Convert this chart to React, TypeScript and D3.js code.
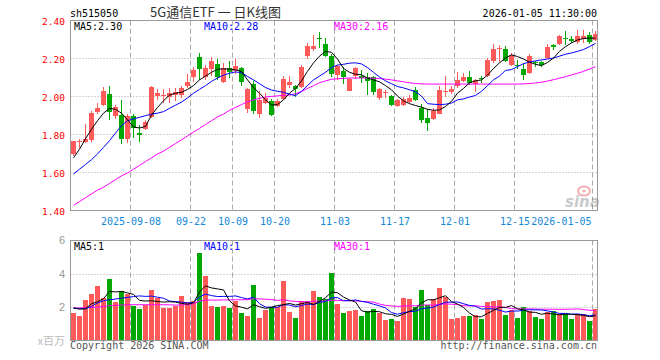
import React from "react";
import * as d3 from "d3";

const dates = [
  "2025-08-25","2025-08-26","2025-08-27","2025-08-28","2025-08-29",
  "2025-09-01","2025-09-02","2025-09-03","2025-09-04","2025-09-05",
  "2025-09-08","2025-09-09","2025-09-10","2025-09-11","2025-09-12",
  "2025-09-15","2025-09-16","2025-09-17","2025-09-18","2025-09-19",
  "2025-09-22","2025-09-23","2025-09-24","2025-09-25","2025-09-26",
  "2025-09-29","2025-09-30",
  "2025-10-09","2025-10-10","2025-10-13","2025-10-14","2025-10-15","2025-10-16","2025-10-17",
  "2025-10-20","2025-10-21","2025-10-22","2025-10-23","2025-10-24",
  "2025-10-27","2025-10-28","2025-10-29","2025-10-30","2025-10-31",
  "2025-11-03","2025-11-04","2025-11-05","2025-11-06","2025-11-07",
  "2025-11-10","2025-11-11","2025-11-12","2025-11-13","2025-11-14",
  "2025-11-17","2025-11-18","2025-11-19","2025-11-20","2025-11-21",
  "2025-11-24","2025-11-25","2025-11-26","2025-11-27","2025-11-28",
  "2025-12-01","2025-12-02","2025-12-03","2025-12-04","2025-12-05",
  "2025-12-08","2025-12-09","2025-12-10","2025-12-11","2025-12-12",
  "2025-12-15","2025-12-16","2025-12-17","2025-12-18","2025-12-19",
  "2025-12-22","2025-12-23","2025-12-24","2025-12-25","2025-12-26",
  "2025-12-29","2025-12-30","2025-12-31",
  "2026-01-05",
];

const open = [
  1.70,1.765,1.763,1.775,1.92,1.96,2.015,1.90,1.905,1.78,
  1.90,1.812,1.833,1.895,2.005,2.005,2.0,2.01,2.012,2.056,
  2.103,2.208,2.105,2.145,2.175,2.079,2.155,2.135,2.152,1.935,
  2.068,1.912,1.97,1.98,1.955,1.99,2.065,2.06,2.055,2.214,
  2.25,2.308,2.277,2.217,2.118,2.137,2.034,2.108,2.11,2.105,
  2.105,1.997,2.025,2.007,1.955,1.96,1.975,2.035,1.942,1.89,
  1.885,1.912,2.028,2.028,2.06,2.086,2.103,2.07,2.1,2.112,
  2.187,2.256,2.254,2.17,2.167,2.147,2.125,2.184,2.184,2.205,
  2.275,2.28,2.31,2.307,2.287,2.305,2.324,2.301,
];
const high = [
  1.77,1.78,1.86,1.925,1.97,2.055,2.06,1.96,1.985,1.91,
  1.91,1.855,1.88,2.06,2.04,2.04,2.045,2.045,2.06,2.12,
  2.16,2.232,2.17,2.21,2.20,2.18,2.19,2.20,2.16,2.05,
  2.085,2.03,2.02,1.99,1.99,2.11,2.11,2.065,2.17,2.284,
  2.326,2.34,2.31,2.225,2.17,2.16,2.10,2.16,2.14,2.125,
  2.11,2.045,2.035,2.01,1.99,2.0,2.01,2.055,1.965,1.935,
  1.94,2.06,2.11,2.06,2.13,2.126,2.138,2.095,2.112,2.205,
  2.28,2.275,2.266,2.232,2.196,2.179,2.225,2.19,2.19,2.28,
  2.28,2.328,2.345,2.319,2.35,2.35,2.34,2.345,
];
const low = [
  1.687,1.73,1.757,1.765,1.91,1.95,1.88,1.885,1.755,1.758,
  1.785,1.765,1.825,1.89,1.985,1.97,1.97,1.98,1.995,2.045,
  2.08,2.09,2.09,2.11,2.09,2.075,2.10,2.12,2.06,1.915,
  1.91,1.887,1.965,1.90,1.945,1.985,2.05,2.0,2.05,2.20,
  2.24,2.258,2.21,2.105,2.09,2.07,2.03,2.095,2.075,2.012,
  2.01,1.985,1.995,1.955,1.945,1.955,1.97,1.98,1.865,1.82,
  1.88,1.91,2.0,2.015,2.045,2.08,2.065,2.024,2.074,2.105,
  2.18,2.182,2.182,2.165,2.147,2.091,2.12,2.16,2.16,2.2,
  2.245,2.275,2.275,2.284,2.28,2.284,2.28,2.293,
];
const close = [
  1.766,1.768,1.78,1.916,1.94,2.03,1.92,1.947,1.78,1.898,
  1.837,1.80,1.87,2.055,2.022,2.008,2.02,2.025,2.047,2.077,
  2.142,2.15,2.155,2.187,2.105,2.153,2.13,2.163,2.08,2.04,
  1.926,1.983,1.997,1.907,1.978,2.097,2.08,2.04,2.157,2.267,
  2.27,2.303,2.215,2.12,2.165,2.105,2.095,2.153,2.10,2.082,
  2.025,2.042,2.028,1.96,1.982,1.99,1.993,1.985,1.88,1.862,
  1.928,2.035,2.032,2.042,2.087,2.103,2.074,2.091,2.097,2.196,
  2.254,2.26,2.187,2.223,2.163,2.117,2.217,2.18,2.168,2.263,
  2.263,2.319,2.305,2.293,2.319,2.319,2.287,2.333,
];
const volume = [
  1.64,1.48,2.44,2.8,3.24,2.54,3.68,2.3,2.94,2.78,
  2.08,1.88,2.14,3.02,2.54,1.94,1.94,2.04,2.64,2.28,
  2.34,5.24,3.84,2.06,1.98,2.04,1.94,2.34,1.64,1.48,
  3.3,1.34,1.84,1.98,1.98,3.58,1.7,1.34,2.38,2.38,
  2.98,2.6,2.48,4.06,2.2,1.66,1.76,1.82,1.48,1.76,
  1.86,1.66,1.22,1.28,1.16,2.56,2.5,2.02,3.02,2.12,
  2.48,3.16,2.62,1.28,1.36,1.48,1.48,1.52,1.28,2.32,
  2.38,2.42,1.52,1.82,1.36,2.02,1.76,1.42,1.28,1.68,
  1.76,1.56,1.56,1.28,1.56,1.56,1.16,1.86,
];

const ma5 = [
  1.68,1.725,1.78,1.83,1.875,1.915,1.94,1.935,1.915,1.88,
  1.842,1.837,1.845,1.905,1.945,1.98,2.01,2.02,2.025,2.04,
  2.06,2.09,2.11,2.13,2.146,2.148,2.147,2.143,2.135,2.09,
  2.05,2.02,1.985,1.958,1.96,1.985,2.02,2.045,2.085,2.135,
  2.18,2.215,2.24,2.235,2.2,2.15,2.13,2.12,2.117,2.1,
  2.09,2.08,2.06,2.038,2.005,1.98,1.965,1.955,1.947,1.935,
  1.93,1.932,1.95,1.977,2.02,2.045,2.075,2.085,2.09,2.115,
  2.15,2.18,2.205,2.222,2.213,2.2,2.183,2.172,2.165,2.182,
  2.205,2.24,2.265,2.285,2.3,2.308,2.31,2.31,
];
const ma10 = [
  1.595,1.62,1.645,1.67,1.70,1.735,1.77,1.81,1.85,1.875,
  1.885,1.893,1.902,1.91,1.915,1.923,1.94,1.957,1.973,1.995,
  2.02,2.04,2.06,2.082,2.10,2.115,2.125,2.132,2.128,2.108,
  2.09,2.07,2.05,2.037,2.03,2.025,2.015,2.007,2.03,2.06,
  2.09,2.11,2.13,2.155,2.168,2.172,2.178,2.18,2.174,2.155,
  2.13,2.105,2.085,2.07,2.055,2.048,2.038,2.028,2.005,1.965,
  1.962,1.96,1.962,1.968,1.985,1.99,2.0,2.008,2.03,2.06,
  2.09,2.11,2.14,2.144,2.16,2.175,2.185,2.19,2.195,2.2,
  2.205,2.215,2.225,2.232,2.24,2.25,2.265,2.282,
];
const ma30 = [
  1.43,1.45,1.47,1.49,1.51,1.525,1.545,1.565,1.585,1.60,
  1.62,1.64,1.66,1.68,1.70,1.715,1.735,1.755,1.775,1.795,
  1.815,1.835,1.855,1.875,1.895,1.91,1.93,1.945,1.96,1.975,
  1.985,1.993,2.0,2.003,2.006,2.009,2.01,2.018,2.028,2.045,
  2.06,2.075,2.085,2.093,2.096,2.098,2.1,2.1,2.1,2.1,
  2.099,2.097,2.094,2.09,2.085,2.08,2.075,2.071,2.069,2.068,
  2.068,2.068,2.068,2.068,2.068,2.068,2.068,2.068,2.068,2.068,
  2.068,2.068,2.068,2.068,2.068,2.069,2.071,2.074,2.078,2.084,
  2.091,2.099,2.107,2.116,2.125,2.135,2.147,2.16,
];
const volMa5 = [
  1.95,1.88,1.9,2.2,2.32,2.5,2.94,2.91,2.94,2.85,
  2.76,2.4,2.36,2.38,2.33,2.3,2.32,2.3,2.22,2.17,
  2.25,2.91,3.27,3.15,3.09,3.03,2.37,2.07,1.99,1.89,
  2.14,2.02,1.92,1.99,2.09,2.14,2.22,2.12,2.2,2.28,
  2.16,2.34,2.56,2.9,2.86,2.6,2.43,2.3,1.78,1.7,
  1.74,1.72,1.6,1.56,1.44,1.58,1.74,1.9,2.25,2.44,
  2.43,2.56,2.68,2.33,2.18,1.98,1.64,1.42,1.42,1.62,
  1.8,1.98,1.98,2.09,1.9,1.83,1.7,1.68,1.57,1.63,
  1.58,1.54,1.57,1.57,1.54,1.5,1.42,1.48,
];
const volMa10 = [
  1.94,1.9,1.9,2.04,2.25,2.38,2.44,2.48,2.54,2.58,
  2.63,2.67,2.64,2.66,2.59,2.53,2.36,2.33,2.3,2.25,
  2.28,2.61,2.78,2.69,2.63,2.64,2.64,2.67,2.57,2.49,
  2.59,2.2,2.0,1.99,1.99,2.14,2.12,2.02,2.09,2.18,
  2.15,2.28,2.34,2.55,2.57,2.38,2.38,2.43,2.34,2.28,
  2.17,2.07,1.95,1.67,1.57,1.66,1.73,1.75,1.9,1.94,
  2.0,2.15,2.29,2.29,2.31,2.2,2.1,2.05,1.88,1.9,
  1.89,1.81,1.7,1.76,1.76,1.81,1.84,1.83,1.83,1.77,
  1.7,1.62,1.62,1.57,1.59,1.54,1.48,1.53,
];
const volMa30 = [
  1.94,1.95,1.96,1.98,2.0,2.04,2.08,2.1,2.12,2.14,
  2.14,2.14,2.14,2.14,2.14,2.14,2.13,2.12,2.12,2.14,
  2.2,2.36,2.42,2.42,2.42,2.43,2.43,2.44,2.44,2.44,
  2.5,2.49,2.47,2.45,2.4,2.44,2.37,2.34,2.32,2.31,
  2.34,2.36,2.37,2.41,2.4,2.39,2.38,2.37,2.34,2.32,
  2.3,2.18,2.1,2.07,2.04,2.06,2.08,2.07,2.11,2.13,
  2.11,2.17,2.19,2.17,2.15,2.08,2.07,2.08,2.04,2.04,
  2.02,2.01,1.98,1.91,1.88,1.89,1.89,1.88,1.87,1.87,
  1.87,1.86,1.87,1.87,1.89,1.85,1.81,1.8,
];

const tickDates = ["2025-09-08","2025-09-22","2025-10-09","2025-10-20","2025-11-03","2025-11-17","2025-12-01","2025-12-15","2026-01-05"];
const tickLabels = ["2025-09-08","09-22","10-09","10-20","11-03","11-17","12-01","12-15","2026-01-05"];
const priceTicks = [1.4, 1.6, 1.8, 2.0, 2.2, 2.4];
const volTicks = [2, 4, 6];

const symbol = "sh515050";
const title = "5G通信ETF 一 日K线图";
const timestamp = "2026-01-05 11:30:00";
const priceLegend = ["MA5:2.30", "MA10:2.28", "MA30:2.16"];
const volLegend = ["MA5:1", "MA10:1", "MA30:1"];
const volUnit = "x百万";
const copyright = "Copyright 2026 SINA.COM";
const url = "http://finance.sina.com.cn";

const RED = "#ff5a5a";
const GREEN = "#00a800";
const MONO = "'DejaVu Sans Mono', 'Liberation Mono', monospace";
const maColors = ["#000000", "#0000ff", "#ff00ff"];

export default function App() {
  const L = 70.5, R = 597.5;
  const PT = 20.5, PB = 210.5;
  const VT = 240.5, VB = 340.5;
  const n = dates.length;
  const x = d3.scaleLinear().domain([0, n]).range([71, 71 + 6 * n]);
  const y = d3.scaleLinear().domain([1.4, 2.4]).range([211, 21]);
  const yv = d3.scaleLinear().domain([0, 6]).range([340.4, 240.4]);
  const cx = (i: number) => x(i) + 2.5;

  const line = d3.line<number>().x((_, i) => cx(i)).y((v) => y(v));
  const vline = d3.line<number>().x((_, i) => cx(i)).y((v) => yv(v));

  const tickIdx = tickDates.map((d) => dates.indexOf(d));

  return (
    <svg
      width={660}
      height={360}
      style={{ position: "fixed", left: 0, top: 0, background: "#fff" }}
      fontFamily={MONO}
    >
      <rect x={0} y={0} width={660} height={360} fill="#fff" />
      {/* header */}
      <text x={70} y={16.5} fontSize={10} fill="#000">{symbol}</text>
      <text x={150} y={16.5} fontSize={13} fill="#333" fontFamily="'Noto Sans CJK SC', sans-serif">{title}</text>
      <text x={597} y={16.5} fontSize={10} fill="#000" textAnchor="end">{timestamp}</text>

      {/* price grid */}
      {priceTicks.filter((t) => t > 1.4 && t < 2.4).map((t) => (
        <line key={"pg" + t} x1={L} x2={R} y1={Math.round(y(t)) - 0.5} y2={Math.round(y(t)) - 0.5}
          stroke="#aaa" strokeDasharray="1,2" />
      ))}
      {tickIdx.map((i, k) => (
        <line key={"pv" + k} x1={x(i) - 0.5} x2={x(i) - 0.5} y1={PT} y2={PB} stroke="#aaa" strokeDasharray="5,3" />
      ))}
      {/* price labels */}
      {priceTicks.map((t) => (
        <text key={"pl" + t} x={65} y={y(t) + 3.5} fontSize={9.5} fill="#ff0000" textAnchor="end">{t.toFixed(2)}</text>
      ))}
      {/* x labels */}
      {tickIdx.map((i, k) => (
        <text key={"xl" + k} x={k === tickIdx.length - 1 ? x(i) - 1.5 : x(i)} y={225} fontSize={10}
          fill="#1488d8" textAnchor={k === tickIdx.length - 1 ? "end" : "middle"}>{tickLabels[k]}</text>
      ))}

      {/* sina watermark */}
      <g opacity={0.45}>
        <ellipse cx={584} cy={191} rx={6} ry={4.5} fill="none" stroke="#e05050" strokeWidth={2} />
        <circle cx={584} cy={191} r={1.6} fill="#e05050" />
        <text x={565} y={207} fontSize={15} fontStyle="italic" fontWeight="bold" fill="#888"
          fontFamily="'DejaVu Sans', sans-serif">sina</text>
      </g>

      {/* candles */}
      <g shapeRendering="crispEdges">
        {dates.map((_, i) => {
          const up = close[i] >= open[i];
          const col = up ? RED : GREEN;
          const top = Math.round(y(Math.max(open[i], close[i])));
          const bot = Math.round(y(Math.min(open[i], close[i])));
          return (
            <g key={"c" + i}>
              <rect x={x(i) + 2} y={Math.round(y(high[i]))} width={1}
                height={Math.max(1, Math.round(y(low[i])) - Math.round(y(high[i])))} fill={col} />
              <rect x={x(i)} y={top} width={5} height={Math.max(1, bot - top)} fill={col} />
            </g>
          );
        })}
      </g>
      {/* price MAs */}
      {[ma30, ma10, ma5].map((arr, k) => (
        <path key={"ma" + k} d={line(arr) || ""} fill="none" stroke={maColors[2 - k]} strokeWidth={1} />
      ))}
      {/* price legend */}
      {priceLegend.map((s, k) => (
        <text key={"lg" + k} x={74 + 130 * k} y={29.5} fontSize={10} fill={maColors[k]}>{s}</text>
      ))}
      {/* price frame */}
      <rect x={L} y={PT} width={R - L} height={PB - PT} fill="none" stroke="#999" />

      {/* volume grid */}
      {volTicks.filter((t) => t < 6).map((t) => (
        <line key={"vg" + t} x1={L} x2={R} y1={Math.round(yv(t)) + 0.5} y2={Math.round(yv(t)) + 0.5}
          stroke="#aaa" strokeDasharray="1,2" />
      ))}
      {tickIdx.map((i, k) => (
        <line key={"vv" + k} x1={x(i) - 0.5} x2={x(i) - 0.5} y1={VT} y2={VB} stroke="#aaa" strokeDasharray="5,3" />
      ))}
      {volTicks.map((t) => (
        <text key={"vl" + t} x={65} y={yv(t) + 4} fontSize={11} fill="#999" textAnchor="end"
          fontFamily="'Liberation Sans', Arial, sans-serif">{t}</text>
      ))}
      <text x={65} y={345} fontSize={11} fill="#bbb" textAnchor="end"
        fontFamily="'Noto Sans CJK SC', sans-serif">{volUnit}</text>

      {/* volume bars */}
      <g shapeRendering="crispEdges">
        {volume.map((v, i) => {
          const up = close[i] >= open[i];
          const top = Math.round(yv(v));
          return <rect key={"v" + i} x={x(i)} y={top} width={5} height={340 - top} fill={up ? RED : GREEN} />;
        })}
      </g>
      {[volMa30, volMa10, volMa5].map((arr, k) => (
        <path key={"vma" + k} d={vline(arr) || ""} fill="none" stroke={maColors[2 - k]} strokeWidth={1} />
      ))}
      {volLegend.map((s, k) => (
        <text key={"vlg" + k} x={74 + 130 * k} y={250} fontSize={10} fill={maColors[k]}>{s}</text>
      ))}
      <rect x={L} y={VT} width={R - L} height={VB - VT} fill="none" stroke="#999" />

      {/* footer */}
      <text x={70} y={349} fontSize={10} fill="#555">{copyright}</text>
      <text x={597} y={349} fontSize={10} fill="#555" textAnchor="end">{url}</text>
    </svg>
  );
}
